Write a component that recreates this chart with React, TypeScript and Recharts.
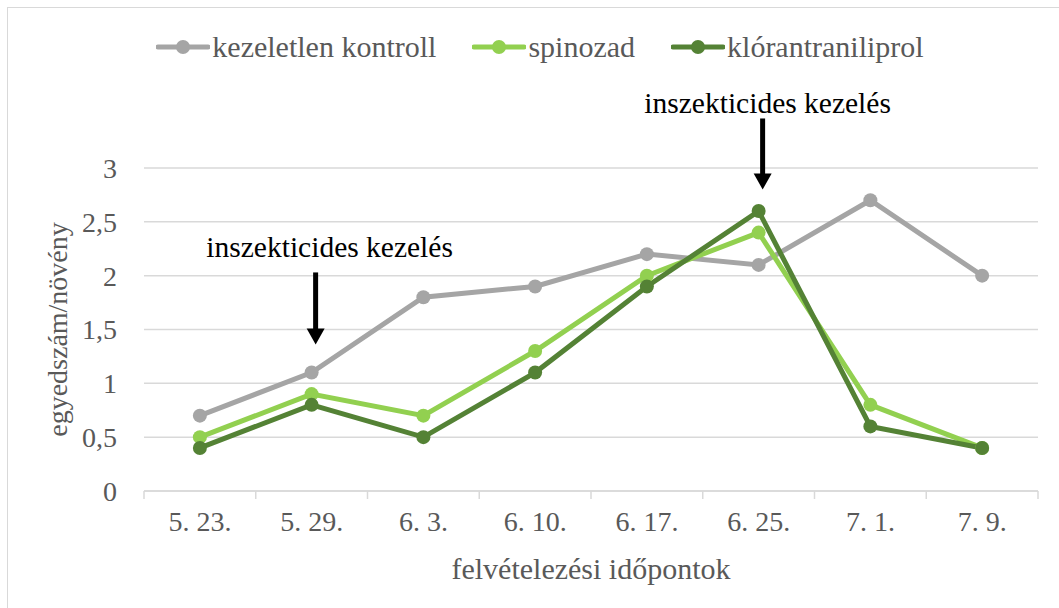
import React from 'react';
import {
  LineChart,
  Line,
  XAxis,
  YAxis,
  CartesianGrid,
  Legend,
  ReferenceLine,
} from 'recharts';

const categories = ['5. 23.', '5. 29.', '6. 3.', '6. 10.', '6. 17.', '6. 25.', '7. 1.', '7. 9.'];
const kontroll = [0.7, 1.1, 1.8, 1.9, 2.2, 2.1, 2.7, 2.0];
const spinozad = [0.5, 0.9, 0.7, 1.3, 2.0, 2.4, 0.8, 0.4];
const klorantraniliprol = [0.4, 0.8, 0.5, 1.1, 1.9, 2.6, 0.6, 0.4];
const yTicks = [0, 0.5, 1, 1.5, 2, 2.5, 3];

// kezelések időpontja (nyíl teteje, hegye, felirat szintje az y tengelyen)
const treatments = [
  { date: '5. 29.', top: 2.03, tip: 1.36, labelAt: 2.17 },
  { date: '6. 25.', top: 3.46, tip: 2.8, labelAt: 3.51 },
];
// felirat vízszintes eltolása a nyílhoz képest (px)
const labelShift = [14, 5];

const series = [
  { key: 'kontroll', name: 'kezeletlen kontroll', color: '#A5A5A5' },
  { key: 'spinozad', name: 'spinozad', color: '#92D050' },
  { key: 'klor', name: 'klórantraniliprol', color: '#548235' },
];

const data = categories.map((c, i) => ({
  date: c,
  kontroll: kontroll[i],
  spinozad: spinozad[i],
  klor: klorantraniliprol[i],
}));

const FONT = '"Liberation Serif", "Times New Roman", serif';
const TEXT = '#595959';
const GRID = '#D9D9D9';

const fmt = (v: number) => String(v).replace('.', ',');

const XTick = (props: any) => {
  const { x, y, payload, index, width, visibleTicksCount } = props;
  const bw = width / visibleTicksCount;
  const axisY = y - 10;
  return (
    <g>
      <line x1={x - bw / 2} x2={x - bw / 2} y1={axisY} y2={axisY + 8} stroke={GRID} strokeWidth={1.5} />
      {index === visibleTicksCount - 1 && (
        <line x1={x + bw / 2} x2={x + bw / 2} y1={axisY} y2={axisY + 8} stroke={GRID} strokeWidth={1.5} />
      )}
      <text x={x} y={axisY + 40} textAnchor="middle" fill={TEXT} fontSize={28} fontFamily={FONT}>
        {payload.value}
      </text>
    </g>
  );
};

const LegendContent = () => (
  <div
    style={{
      display: 'flex',
      justifyContent: 'center',
      gap: 36,
      paddingLeft: 21,
      fontFamily: FONT,
      fontSize: 30,
      color: TEXT,
    }}
  >
    {series.map((s) => (
      <div key={s.key} style={{ display: 'flex', alignItems: 'center' }}>
        <svg width={54} height={20} style={{ marginRight: 2 }}>
          <line x1={2} x2={52} y1={10} y2={10} stroke={s.color} strokeWidth={5} strokeLinecap="round" />
          <circle cx={27} cy={10} r={7} fill={s.color} />
        </svg>
        <span>{s.name}</span>
      </div>
    ))}
  </div>
);

const Arrow = (props: any) => {
  const { x1, y1, y2, label, labelY, shift } = props;
  const ax = x1 + 4;
  return (
    <g>
      <line x1={ax} x2={ax} y1={y1} y2={y2 - 15} stroke="#000" strokeWidth={5} />
      <polygon points={`${ax - 9},${y2 - 16} ${ax + 9},${y2 - 16} ${ax},${y2}`} fill="#000" />
      <text x={ax + shift} y={labelY} textAnchor="middle" fill="#000" fontSize={29.5} fontFamily={FONT}>
        {label}
      </text>
    </g>
  );
};

export default function App() {
  return (
    <div style={{ position: 'absolute', left: 0, top: 0, width: 1059, height: 608, background: '#fff' }}>
      <div
        style={{
          position: 'absolute',
          left: 7,
          top: 7,
          right: -2,
          bottom: -2,
          borderLeft: `1.5px solid ${GRID}`,
          borderTop: `1.5px solid ${GRID}`,
        }}
      />
      <LineChart
        width={1059}
        height={608}
        data={data}
        margin={{ top: 168, right: 21, bottom: 0, left: 0 }}
        style={{ position: 'absolute', left: 0, top: 0 }}
      >
        <CartesianGrid horizontal vertical={false} stroke={GRID} strokeWidth={1.5} />
        <XAxis
          dataKey="date"
          scale="band"
          height={117}
          axisLine={{ stroke: GRID, strokeWidth: 1.5 }}
          tickLine={false}
          tickSize={10}
          tickMargin={0}
          interval={0}
          tick={<XTick />}
          label={(p: any) => {
            const vb = p.viewBox;
            return (
              <text x={vb.x + vb.width / 2} y={vb.y + 88} textAnchor="middle" fill={TEXT} fontSize={30} fontFamily={FONT}>
                felvételezési időpontok
              </text>
            );
          }}
        />
        <YAxis
          width={144}
          domain={[0, 3]}
          ticks={yTicks}
          axisLine={false}
          tickLine={false}
          tickSize={0}
          tickMargin={27}
          tickFormatter={fmt}
          tick={{ fill: TEXT, fontSize: 28, fontFamily: FONT }}
          label={(p: any) => {
            const vb = p.viewBox;
            const cx = 67;
            const cy = vb.y + vb.height / 2;
            return (
              <text x={cx} y={cy} transform={`rotate(-90, ${cx}, ${cy})`} textAnchor="middle" fill={TEXT} fontSize={28} fontFamily={FONT}>
                egyedszám/növény
              </text>
            );
          }}
        />
        <Legend
          verticalAlign="middle"
          align="center"
          layout="horizontal"
          wrapperStyle={{ top: 30, left: 0, width: 1059 }}
          content={<LegendContent />}
        />
        {series.map((s) => (
          <Line
            key={s.key}
            dataKey={s.key}
            name={s.name}
            stroke={s.color}
            strokeWidth={5}
            dot={{ r: 7, fill: s.color, stroke: s.color, strokeWidth: 0 }}
            activeDot={false}
            isAnimationActive={false}
          />
        ))}
        {treatments.map((t, i) => (
          <ReferenceLine
            key={t.date}
            segment={[
              { x: t.date, y: t.top },
              { x: t.date, y: t.tip },
            ]}
            ifOverflow="visible"
            shape={(p: any) => {
              const py = p.y1 + ((p.y2 - p.y1) * (t.top - t.labelAt)) / (t.top - t.tip);
              return <Arrow {...p} label="inszekticides kezelés" labelY={py} shift={labelShift[i]} />;
            }}
          />
        ))}
      </LineChart>
    </div>
  );
}
